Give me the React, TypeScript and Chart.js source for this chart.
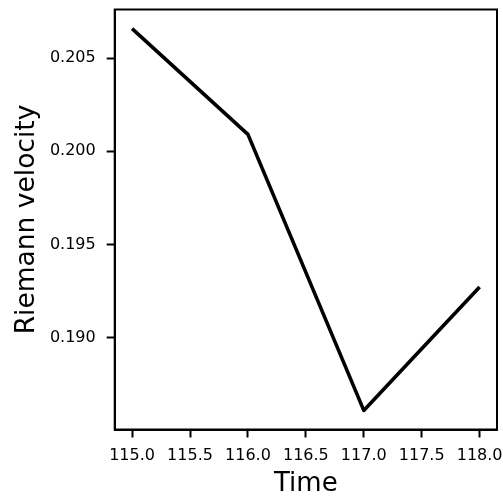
import React, { useEffect, useRef } from "react";
import { Chart, registerables } from "chart.js";

Chart.register(...registerables);

const TIMES = [115.0, 116.0, 117.0, 118.0];
const VELOCITY = [0.20659, 0.20091, 0.18609, 0.19272];
const X_TICKS = [115.0, 115.5, 116.0, 116.5, 117.0, 117.5, 118.0];
const Y_TICKS = [0.19, 0.195, 0.2, 0.205];
const X_TITLE = "Time";
const Y_TITLE = "Riemann velocity";

const FONT = "DejaVu Sans";

const boxPlugin = {
  id: "box",
  afterDraw(chart: any) {
    const { ctx, chartArea } = chart;
    ctx.save();
    ctx.strokeStyle = "#000";
    ctx.lineWidth = 2;
    ctx.strokeRect(chartArea.left, chartArea.top, chartArea.right - chartArea.left, chartArea.bottom - chartArea.top);
    ctx.restore();
  },
};

const zeroPad = (s: any) => {
  s.paddingTop = 0;
  s.paddingBottom = 0;
  s.paddingLeft = 0;
  s.paddingRight = 0;
};

export default function App() {
  const ref = useRef<HTMLCanvasElement | null>(null);
  useEffect(() => {
    if (!ref.current) return;
    const xmin = Math.min(...TIMES), xmax = Math.max(...TIMES);
    const ymin = Math.min(...VELOCITY), ymax = Math.max(...VELOCITY);
    const xm = (xmax - xmin) * 0.05, ym = (ymax - ymin) * 0.05;
    const chart = new Chart(ref.current, {
      type: "line",
      data: {
        datasets: [
          {
            data: TIMES.map((t, i) => ({ x: t, y: VELOCITY[i] })),
            borderColor: "#000",
            borderWidth: 3.6,
            pointRadius: 0,
            tension: 0,
            fill: false,
            borderJoinStyle: "round",
            borderCapStyle: "butt",
          },
        ],
      },
      options: {
        responsive: false,
        animation: false,
        events: [],
        layout: { autoPadding: false, padding: { top: 9.5, right: 6, left: 0, bottom: 0 } },
        plugins: { legend: { display: false }, tooltip: { enabled: false } },
        scales: {
          x: {
            type: "linear",
            min: xmin - xm,
            max: xmax + xm,
            afterBuildTicks: (s: any) => {
              s.ticks = X_TICKS.map((v) => ({ value: v }));
            },
            afterFit: (s: any) => {
              s.height = 74.5;
              zeroPad(s);
            },
            grid: { drawOnChartArea: false, drawTicks: true, tickLength: 8, tickColor: "#000", tickWidth: 2 },
            border: { display: true, color: "#000", width: 2 },
            ticks: {
              color: "#000",
              padding: 9,
              maxRotation: 0,
              autoSkip: false,
              font: { family: FONT, size: 16 },
              callback: (v: any) => Number(v).toFixed(1),
            },
            title: {
              display: true,
              text: X_TITLE,
              color: "#000",
              font: { family: FONT, size: 26 },
              padding: { top: 0, bottom: 4 },
            },
          },
          y: {
            type: "linear",
            min: ymin - ym,
            max: ymax + ym,
            afterBuildTicks: (s: any) => {
              s.ticks = Y_TICKS.map((v) => ({ value: v }));
            },
            afterFit: (s: any) => {
              s.width = 114.7;
              zeroPad(s);
            },
            grid: { drawOnChartArea: false, drawTicks: true, tickLength: 8, tickColor: "#000", tickWidth: 2 },
            border: { display: true, color: "#000", width: 2 },
            ticks: {
              color: "#000",
              padding: 11,
              autoSkip: false,
              font: { family: FONT, size: 16 },
              callback: (v: any) => Number(v).toFixed(3),
            },
            title: {
              display: true,
              text: Y_TITLE,
              color: "#000",
              font: { family: FONT, size: 26.5 },
              padding: { top: 11, bottom: 0 },
            },
          },
        },
      },
      plugins: [boxPlugin],
    } as any);
    return () => chart.destroy();
  }, []);
  return (
    <div style={{ position: "absolute", left: 0, top: 0, width: 503, height: 504, background: "#fff" }}>
      <canvas ref={ref} width={503} height={504} style={{ width: 503, height: 504, display: "block" }} />
    </div>
  );
}
